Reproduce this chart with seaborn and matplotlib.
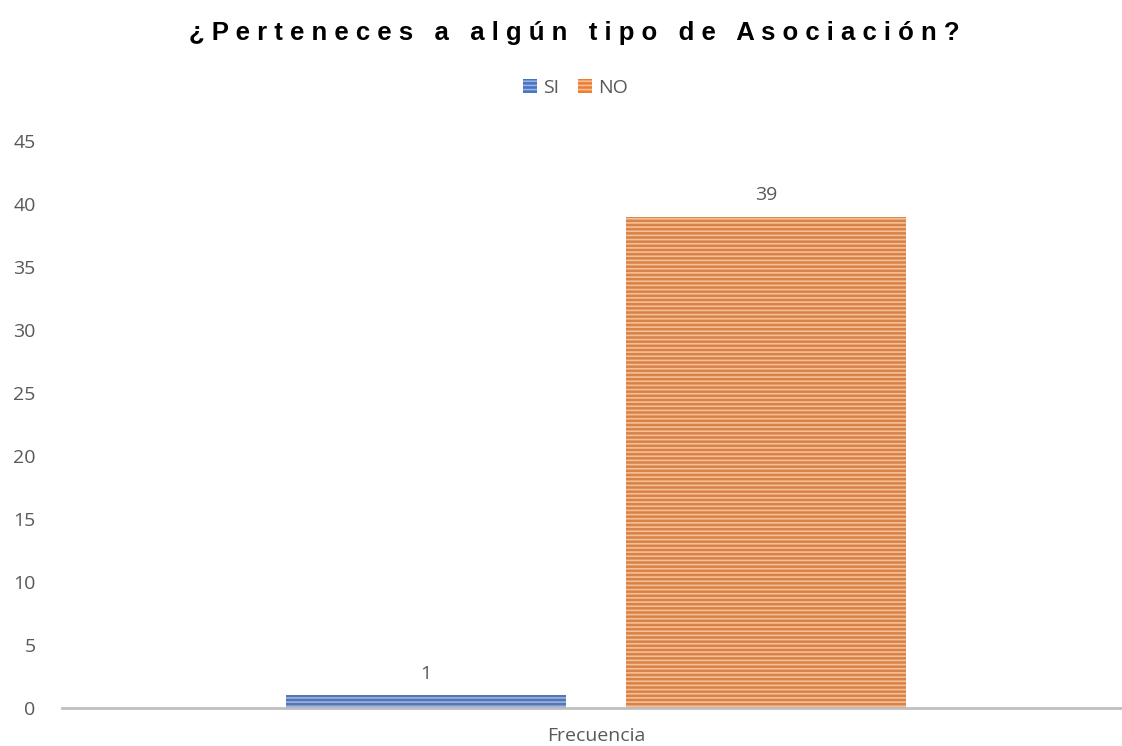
import seaborn as sns
import matplotlib.pyplot as plt
import pandas as pd
from matplotlib.patches import Patch

categories = ["Frecuencia"]
answers = ["SI", "NO"]
counts = [1, 39]

face_colors = ["#4472C4", "#ED7D31"]
hatch_colors = ["#9BB3E0", "#F8BF95"]
text_grey = "#595959"

df = pd.DataFrame({"cat": categories * 2, "resp": answers, "n": counts})

sns.set_style("white")
plt.rcParams["font.family"] = ["Open Sans", "DejaVu Sans"]
plt.rcParams["hatch.linewidth"] = 1.2

fig = plt.figure(figsize=(11.22, 7.46), dpi=100)
ax = fig.add_axes([62 / 1122, 1 - 708 / 746, 1068 / 1122, (708 - 141) / 746])

sns.barplot(data=df, x="cat", y="n", hue="resp", hue_order=answers,
            palette=face_colors, width=0.877, gap=0.176, legend=False, ax=ax)

for bar, hc in zip(ax.patches, hatch_colors):
    bar.set_edgecolor(hc)
    bar.set_linewidth(0)
    bar.set_hatch("----")

for bar, v in zip(ax.patches, counts):
    ax.annotate(str(v), (bar.get_x() + bar.get_width() / 2, bar.get_height()),
                xytext=(0, 9), textcoords="offset points", ha="center",
                va="bottom", fontsize=14, color=text_grey)

ax.set_xlim(-0.689, 0.689)
ax.set_ylim(0, 45)
ax.set_yticks(range(0, 46, 5))
ax.set_xlabel("")
ax.set_ylabel("")
ax.tick_params(axis="both", length=0, labelsize=14, colors=text_grey)
ax.tick_params(axis="x", pad=14)
ax.tick_params(axis="y", pad=19)
for s in ["top", "right", "left"]:
    ax.spines[s].set_visible(False)
ax.spines["bottom"].set_color("#BFBFBF")
ax.spines["bottom"].set_linewidth(2)

handles = [Patch(facecolor=c, edgecolor=h, linewidth=0, hatch="----")
           for c, h in zip(face_colors, hatch_colors)]
fig.legend(handles, answers, loc="center", bbox_to_anchor=(0.513, 1 - 88 / 746),
           ncol=2, frameon=False, fontsize=14, handlelength=0.7, handleheight=0.7,
           handletextpad=0.3, columnspacing=1.0, labelcolor=text_grey)

title = " ".join("¿Perteneces a algún tipo de Asociación?")
fig.text(0.512, 1 - 33 / 746, title, ha="center", va="center", fontsize=18.5,
         fontweight="bold", color="black",
         family=["Liberation Sans", "DejaVu Sans"])

fig.savefig("out.png", dpi=100)
